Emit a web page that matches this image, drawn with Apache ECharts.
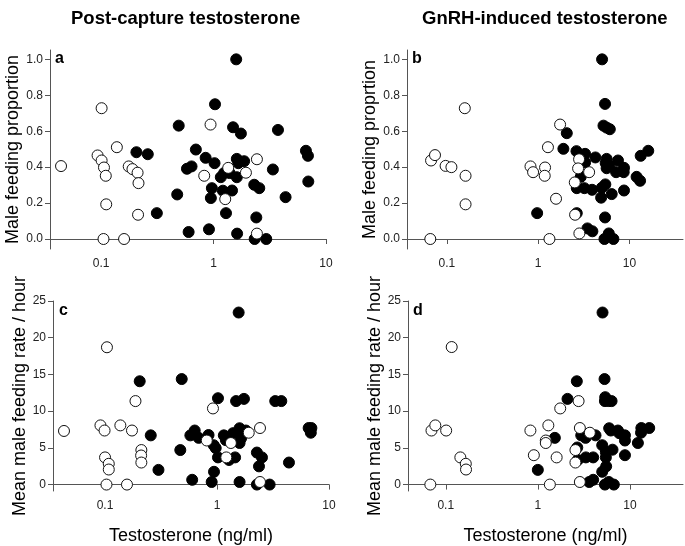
<!DOCTYPE html>
<html><head><meta charset="utf-8">
<script src="https://cdn.jsdelivr.net/npm/echarts@6/dist/echarts.min.js"></script>
<style>html,body{margin:0;padding:0;background:#fff}#c{width:685px;height:546px}</style>
</head><body><div id="c"></div>
<script>
// Panel a: post-capture testosterone vs male feeding proportion
const aOpenX = [0.044,0.101,0.093,0.101,0.106,0.110,0.111,0.105,0.138,0.176,0.190,0.211,0.215,0.213,0.160,0.94,0.826,1.35,1.27,1.94,2.43,2.43];
const aOpenY = [0.406,0.728,0.465,0.437,0.398,0.352,0.193,0,0.511,0.404,0.389,0.369,0.311,0.135,0,0.637,0.352,0.396,0.222,0.369,0.444,0.03];
const aFillX = [1.59,1.03,0.49,1.49,1.75,3.74,0.206,0.26,0.696,0.85,0.58,0.637,1.02,1.61,1.66,1.87,1.16,1.24,1.39,1.61,0.966,0.946,1.21,1.46,0.475,0.313,1.29,0.60,0.91,1.62,2.30,2.55,2.40,2.32,2.94,3.37,4.37,6.63,6.91,6.96];
const aFillY = [1.0,0.75,0.631,0.622,0.587,0.607,0.483,0.472,0.498,0.452,0.391,0.404,0.422,0.446,0.422,0.433,0.344,0.367,0.367,0.344,0.283,0.228,0.269,0.270,0.248,0.144,0.144,0.039,0.054,0.03,0.302,0.283,0.12,0,0,0.387,0.233,0.491,0.463,0.320];
// Panel b: GnRH-induced testosterone vs male feeding proportion
const bOpenX = [0.0657,0.067,0.074,0.0967,0.112,0.157,0.160,0.160,0.824,0.88,1.19,1.18,1.28,1.33,1.57,1.74,2.52,2.54,2.81,2.74,3.62,2.83];
const bOpenY = [0,0.437,0.467,0.407,0.40,0.728,0.352,0.193,0.404,0.372,0.398,0.352,0.511,0,0.224,0.637,0.315,0.135,0.444,0.393,0.372,0.031];
const bFillX = [5.02,5.41,5.2,5.63,6.1,2.06,1.89,2.63,3.27,4.24,3.27,5.63,5.5,6.04,5.63,7.5,7.15,8.73,8.66,2.93,2.65,3.21,3.9,4.98,5.45,4.90,6.4,8.73,12.0,13.1,13.3,16.1,0.975,2.65,5.41,3.47,3.93,5.33,5.95,6.68];
const bFillY = [1.0,0.752,0.631,0.62,0.611,0.589,0.502,0.489,0.474,0.454,0.426,0.446,0.422,0.407,0.394,0.437,0.372,0.396,0.372,0.346,0.283,0.283,0.274,0.285,0.304,0.230,0.25,0.270,0.346,0.324,0.463,0.491,0.144,0.144,0.12,0.059,0.043,0,0.031,0];
// Panel c: post-capture testosterone vs feeding rate
const cOpenX = [0.043,0.104,0.091,0.099,0.137,0.174,0.187,0.211,0.21,0.211,0.1,0.108,0.108,0.103,0.157,0.92,0.81,1.33,1.21,1.92,2.42,2.42];
const cOpenY = [7.3,18.7,8.06,7.36,8.06,7.36,11.37,4.7,3.96,3.0,3.7,2.83,2.05,0,0,10.37,6.0,5.66,3.7,7.06,7.7,0.35];
const cFillX = [1.56,0.204,0.484,1.02,1.48,1.74,3.31,3.75,0.256,0.47,0.30,0.578,0.632,0.686,0.84,0.934,0.973,1.02,0.94,0.60,0.896,1.15,1.20,1.28,1.39,1.45,1.59,1.64,1.59,1.81,1.59,2.27,2.52,2.37,2.27,2.95,4.39,6.58,6.96,6.88];
const cFillY = [23.43,14.07,14.37,11.76,11.37,11.67,11.37,11.37,6.7,4.7,2.0,6.7,7.36,6.36,6.75,5.36,4.97,3.7,1.74,0.65,0.35,6.7,6.05,3.35,7.0,3.7,7.67,6.3,5.66,7.36,0.35,4.36,3.7,2.48,0,0,3.0,7.7,7.7,7.06];
// Panel d: GnRH-induced testosterone vs feeding rate
const dOpenX = [0.068,0.070,0.077,0.101,0.116,0.144,0.165,0.166,0.83,0.905,1.22,1.22,1.30,1.35,1.6,1.75,2.56,2.56,2.77,2.86,2.86,3.67];
const dOpenY = [0,7.36,8.06,7.36,18.73,3.7,2.83,2.05,7.36,4.0,6.0,5.66,8.06,0,3.7,10.37,4.7,3.0,11.37,7.7,0.35,7.06];
const dFillX = [5.04,2.65,5.3,2.1,5.39,5.35,5.9,6.32,1.53,1.0,2.68,2.72,2.96,3.16,3.30,4.23,3.32,3.99,3.61,3.99,5.0,5.48,5.48,5.52,5.0,5.95,6.2,6.47,5.35,5.9,6.69,7.4,7.66,8.83,8.83,8.83,12.2,13.3,13.2,16.2];
const dFillY = [23.43,14.07,14.37,11.67,11.9,11.37,11.37,11.37,6.36,2.0,5.05,3.35,6.7,6.7,6.36,6.7,3.7,3.7,0.35,0.65,5.36,4.4,3.7,2.48,1.74,7.67,7.36,4.75,0,0.35,0,7.36,7.0,6.7,6.0,4.0,5.66,7.7,7.06,7.7];

const xTicks = [0.1, 1, 10];
const yTicksProp = [0, 0.2, 0.4, 0.6, 0.8, 1.0];
const yTicksRate = [0, 5, 10, 15, 20, 25];
const titles = ['Post-capture testosterone', 'GnRH-induced testosterone'];
const yNames = ['Male feeding proportion', 'Male feeding proprtion', 'Mean male feeding rate / hour', 'Mean male feeding rate / hour'];
const panelLetters = ['a', 'b', 'c', 'd'];
const xLabel = 'Testosterone (ng/ml)';

const zip = (xs, ys) => xs.map((x, i) => [x, ys[i]]);
const FONT = 'Liberation Sans, Arial, sans-serif';

const grids = [
  {left: 50, top: 50, width: 276, height: 199},
  {left: 407, top: 50, width: 276, height: 199},
  {left: 53, top: 301, width: 276, height: 198},
  {left: 408, top: 301, width: 275, height: 198}
];
const xRanges = [[0.0351, 10], [0.0365, 38.7], [0.0343, 10], [0.0389, 37.7]];
const yRanges = [[-0.0556, 1.052], [-0.0556, 1.052], [-0.876, 25], [-0.876, 25]];
const yTickSets = [yTicksProp, yTicksProp, yTicksRate, yTicksRate];
const yNameGaps = [26, 26, 24, 22];
const open = [zip(aOpenX, aOpenY), zip(bOpenX, bOpenY), zip(cOpenX, cOpenY), zip(dOpenX, dOpenY)];
const fill = [zip(aFillX, aFillY), zip(bFillX, bFillY), zip(cFillX, cFillY), zip(dFillX, dFillY)];

const lineCol = '#555';
const xAxis = [], yAxis = [], series = [];
for (let i = 0; i < 4; i++) {
  xAxis.push({
    type: 'log', logBase: 10, gridIndex: i, min: xRanges[i][0], max: xRanges[i][1],
    axisLine: {show: true, lineStyle: {color: lineCol, width: 1}},
    axisTick: {show: true, inside: false, length: 5, lineStyle: {color: lineCol}, customValues: xTicks},
    axisLabel: {color: '#222', fontSize: 12, fontFamily: FONT, margin: 9, customValues: xTicks, formatter: v => String(v)},
    splitLine: {show: false},
    name: i >= 2 ? xLabel : '', nameLocation: 'middle', nameGap: 36,
    nameTextStyle: {fontSize: 18, color: '#000', fontFamily: FONT}
  });
  yAxis.push({
    type: 'value', gridIndex: i, min: yRanges[i][0], max: yRanges[i][1],
    axisLine: {show: true, lineStyle: {color: lineCol, width: 1}},
    axisTick: {show: true, inside: false, length: 5, lineStyle: {color: lineCol}, customValues: yTickSets[i]},
    axisLabel: {color: '#222', fontSize: 12, fontFamily: FONT, margin: 7, customValues: yTickSets[i],
      formatter: v => i < 2 ? Number(v).toFixed(1) : String(v)},
    splitLine: {show: false},
    name: yNames[i], nameLocation: 'middle', nameGap: yNameGaps[i],
    nameTextStyle: {fontSize: 18, color: '#000', fontFamily: FONT}
  });
  series.push({
    type: 'scatter', xAxisIndex: i, yAxisIndex: i, data: fill[i], symbolSize: 11,
    itemStyle: {color: '#000', borderColor: '#000', borderWidth: 1, opacity: 1}
  });
  series.push({
    type: 'scatter', xAxisIndex: i, yAxisIndex: i, data: open[i], symbolSize: 11,
    itemStyle: {color: '#fff', borderColor: '#111', borderWidth: 1, opacity: 1}
  });
}

const letterPos = [[55, 59], [412, 59], [59, 311], [413, 311]];
const graphic = panelLetters.map((t, i) => ({
  type: 'text', left: letterPos[i][0], top: letterPos[i][1] - 8,
  style: {text: t, font: 'bold 16px ' + FONT, fill: '#000'}
}));

const chart = echarts.init(document.getElementById('c'), null, {renderer: 'canvas'});
chart.setOption({
  animation: false,
  backgroundColor: '#fff',
  title: [
    {text: titles[0], left: 66, top: 4, textStyle: {fontSize: 18.5, fontWeight: 'bold', color: '#000', fontFamily: FONT}},
    {text: titles[1], left: 417, top: 4, textStyle: {fontSize: 18.5, fontWeight: 'bold', color: '#000', fontFamily: FONT}}
  ],
  grid: grids,
  xAxis: xAxis,
  yAxis: yAxis,
  series: series,
  graphic: graphic
});
</script></body></html>
